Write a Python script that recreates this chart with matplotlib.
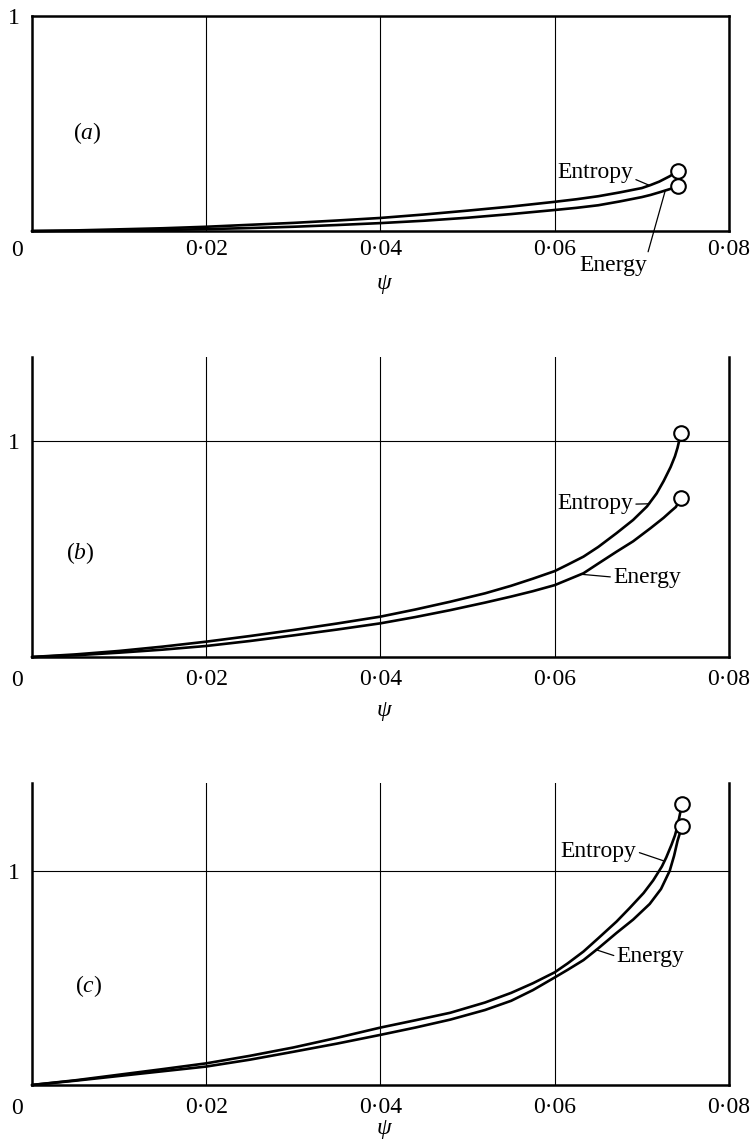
import matplotlib
matplotlib.use("Agg")
import matplotlib.pyplot as plt

plt.rcParams["font.family"] = ["Liberation Serif", "DejaVu Serif"]
plt.rcParams["mathtext.fontset"] = "custom"
plt.rcParams["mathtext.rm"] = "Liberation Serif"
plt.rcParams["mathtext.it"] = "Liberation Serif:italic"

# ---- axis ticks -------------------------------------------------------
x_ticks = [0.02, 0.04, 0.06, 0.08]
x_tick_labels = ["0\u00b702", "0\u00b704", "0\u00b706", "0\u00b708"]
y_ticks = [1]
y_tick_labels = ["1"]
panel_names = ["(a)", "(b)", "(c)"]

# ---- panel (a) --------------------------------------------------------
psi_ent_a = [0, 0.005, 0.01, 0.015, 0.02, 0.025, 0.03, 0.035, 0.04, 0.045, 0.05,
             0.055, 0.06, 0.0625, 0.065, 0.0675, 0.07, 0.071, 0.072, 0.0732, 0.0742]
ent_a = [0, 0.003, 0.008, 0.013, 0.02, 0.029, 0.038, 0.049, 0.061, 0.077, 0.095,
         0.114, 0.136, 0.148, 0.162, 0.18, 0.2, 0.214, 0.23, 0.255, 0.28]
psi_en_a = [0, 0.005, 0.01, 0.015, 0.02, 0.025, 0.03, 0.035, 0.04, 0.045, 0.05,
            0.055, 0.06, 0.0625, 0.065, 0.0675, 0.07, 0.071, 0.072, 0.0732, 0.0742]
en_a = [0, 0.001, 0.003, 0.005, 0.009, 0.014, 0.02, 0.028, 0.037, 0.048, 0.062,
        0.079, 0.098, 0.108, 0.12, 0.138, 0.158, 0.168, 0.18, 0.195, 0.208]

# ---- panel (b) --------------------------------------------------------
psi_ent_b = [0, 0.005, 0.01, 0.015, 0.02, 0.025, 0.03, 0.035, 0.04, 0.044, 0.048,
             0.052, 0.055, 0.0575, 0.06, 0.0615, 0.0633, 0.065, 0.0671, 0.069,
             0.0706, 0.0717, 0.0725, 0.0733, 0.0738, 0.0741, 0.0745]
ent_b = [0, 0.012, 0.028, 0.048, 0.071, 0.097, 0.125, 0.155, 0.187, 0.22, 0.256,
         0.295, 0.33, 0.363, 0.398, 0.428, 0.465, 0.51, 0.574, 0.635,
         0.698, 0.758, 0.815, 0.88, 0.93, 0.97, 1.04]
psi_en_b = [0, 0.005, 0.01, 0.015, 0.02, 0.025, 0.03, 0.035, 0.04, 0.044, 0.048,
            0.052, 0.055, 0.0575, 0.06, 0.0615, 0.0633, 0.065, 0.0671, 0.069,
            0.071, 0.0725, 0.0733, 0.0739, 0.0745]
en_b = [0, 0.008, 0.02, 0.034, 0.051, 0.074, 0.1, 0.127, 0.156, 0.185, 0.217,
        0.252, 0.28, 0.305, 0.333, 0.358, 0.388, 0.433, 0.488, 0.536,
        0.597, 0.645, 0.674, 0.695, 0.736]

# ---- panel (c) --------------------------------------------------------
psi_ent_c = [0, 0.005, 0.01, 0.015, 0.02, 0.025, 0.03, 0.035, 0.04, 0.044, 0.048,
             0.052, 0.055, 0.0575, 0.06, 0.0615, 0.0633, 0.065, 0.0671, 0.0686,
             0.0702, 0.0713, 0.0723, 0.0728, 0.0734, 0.0738, 0.0741, 0.0746]
ent_c = [0, 0.022, 0.048, 0.074, 0.101, 0.136, 0.175, 0.22, 0.268, 0.302, 0.337,
         0.385, 0.43, 0.475, 0.526, 0.568, 0.623, 0.685, 0.763, 0.826,
         0.896, 0.955, 1.02, 1.062, 1.121, 1.165, 1.21, 1.31]
psi_en_c = [0, 0.005, 0.01, 0.015, 0.02, 0.025, 0.03, 0.035, 0.04, 0.044, 0.048,
            0.052, 0.055, 0.0575, 0.06, 0.0615, 0.0633, 0.065, 0.0671, 0.069,
            0.0709, 0.0722, 0.0732, 0.0737, 0.0741, 0.0746]
en_c = [0, 0.02, 0.042, 0.064, 0.086, 0.118, 0.155, 0.193, 0.234, 0.268, 0.305,
        0.35, 0.393, 0.443, 0.502, 0.538, 0.583, 0.638, 0.71, 0.772,
        0.845, 0.915, 1.0, 1.07, 1.14, 1.207]

FS = 17
INK = "black"

fig = plt.figure(figsize=(7.54, 11.41), dpi=100)
fig.patch.set_facecolor("white")

panels = [
    dict(rect=[0.0424, 0.7975, 0.9244, 0.1884], ytop=1.0, box=True, hgrid=False,
         curves=[(psi_ent_a, ent_a), (psi_en_a, en_a)], xpad=6,
         label_xy=(0.0063, 0.456),
         ent_text=(0.069, 0.274), ent_pt=(0.0709, 0.212), ent_rel=(1.0, 0.2),
         en_text=(0.0667, -0.158), en_pt=(0.0727, 0.19), en_rel=(1.0, 0.95),
         en_ha="center", psi_dy=-52),
    dict(rect=[0.0424, 0.4242, 0.9244, 0.2629], ytop=1.39, box=False, hgrid=True,
         curves=[(psi_ent_b, ent_b), (psi_en_b, en_b)], xpad=9,
         label_xy=(0.0055, 0.48),
         ent_text=(0.069, 0.713), ent_pt=(0.0709, 0.71), ent_rel=(1.0, 0.45),
         en_text=(0.0667, 0.37), en_pt=(0.0631, 0.383), en_rel=(0.0, 0.5),
         en_ha="left", psi_dy=-54),
    dict(rect=[0.0424, 0.0491, 0.9244, 0.2647], ytop=1.41, box=False, hgrid=True,
         curves=[(psi_ent_c, ent_c), (psi_en_c, en_c)], xpad=9,
         label_xy=(0.0065, 0.46),
         ent_text=(0.0694, 1.089), ent_pt=(0.0726, 1.045), ent_rel=(1.0, 0.5),
         en_text=(0.0671, 0.6), en_pt=(0.0647, 0.632), en_rel=(0.0, 0.5),
         en_ha="left", psi_dy=-44),
]

for name, p in zip(panel_names, panels):
    ax = fig.add_axes(p["rect"])
    ax.set_xlim(0, 0.08)
    ax.set_ylim(0, p["ytop"])
    ax.set_facecolor("white")

    ax.set_xticks(x_ticks)
    ax.set_xticklabels(x_tick_labels)
    ax.set_yticks(y_ticks)
    ax.set_yticklabels(y_tick_labels)
    ax.tick_params(axis="x", length=0, pad=p["xpad"], labelsize=FS)
    ax.tick_params(axis="y", length=0, pad=9, labelsize=FS)

    ax.grid(axis="x", color=INK, lw=0.8)
    if p["hgrid"]:
        ax.grid(axis="y", color=INK, lw=0.8)
    ax.set_axisbelow(True)

    for side in ["left", "right", "bottom", "top"]:
        ax.spines[side].set_linewidth(1.8)
        ax.spines[side].set_color(INK)
    if not p["box"]:
        ax.spines["top"].set_visible(False)

    # origin label sits to the left of the corner
    ax.annotate("0", xy=(0, 0), xycoords="data", xytext=(-15, -p["xpad"] * 1.39 - 1),
                textcoords="offset pixels", ha="center", va="top", fontsize=FS,
                annotation_clip=False)

    # curves ending in open circles
    for xs, ys in p["curves"]:
        ax.plot(xs, ys, color=INK, lw=1.9, solid_capstyle="round",
                solid_joinstyle="round", zorder=3, clip_on=False)
        ax.plot(xs[-1], ys[-1], marker="o", ms=10.5, mfc="white", mec=INK,
                mew=1.5, zorder=4, clip_on=False)

    ax.annotate("Entropy", xy=p["ent_pt"], xytext=p["ent_text"], ha="right",
                va="center", fontsize=FS, annotation_clip=False,
                arrowprops=dict(arrowstyle="-", lw=0.9, color=INK, shrinkA=0,
                                shrinkB=0, relpos=p["ent_rel"]))
    ax.annotate("Energy", xy=p["en_pt"], xytext=p["en_text"], ha=p["en_ha"],
                va="center", fontsize=FS, annotation_clip=False,
                arrowprops=dict(arrowstyle="-", lw=0.9, color=INK, shrinkA=0,
                                shrinkB=0, relpos=p["en_rel"]))

    letter = name.strip("()")
    ax.text(p["label_xy"][0], p["label_xy"][1], "($" + letter + "$)",
            fontsize=FS, ha="center", va="center")

    ax.annotate("\u03c8", xy=(0.505, 0), xycoords="axes fraction",
                xytext=(0, p["psi_dy"]), textcoords="offset pixels",
                ha="center", va="center", fontsize=FS, style="italic",
                annotation_clip=False)

fig.savefig("out.png", dpi=100, facecolor="white")
